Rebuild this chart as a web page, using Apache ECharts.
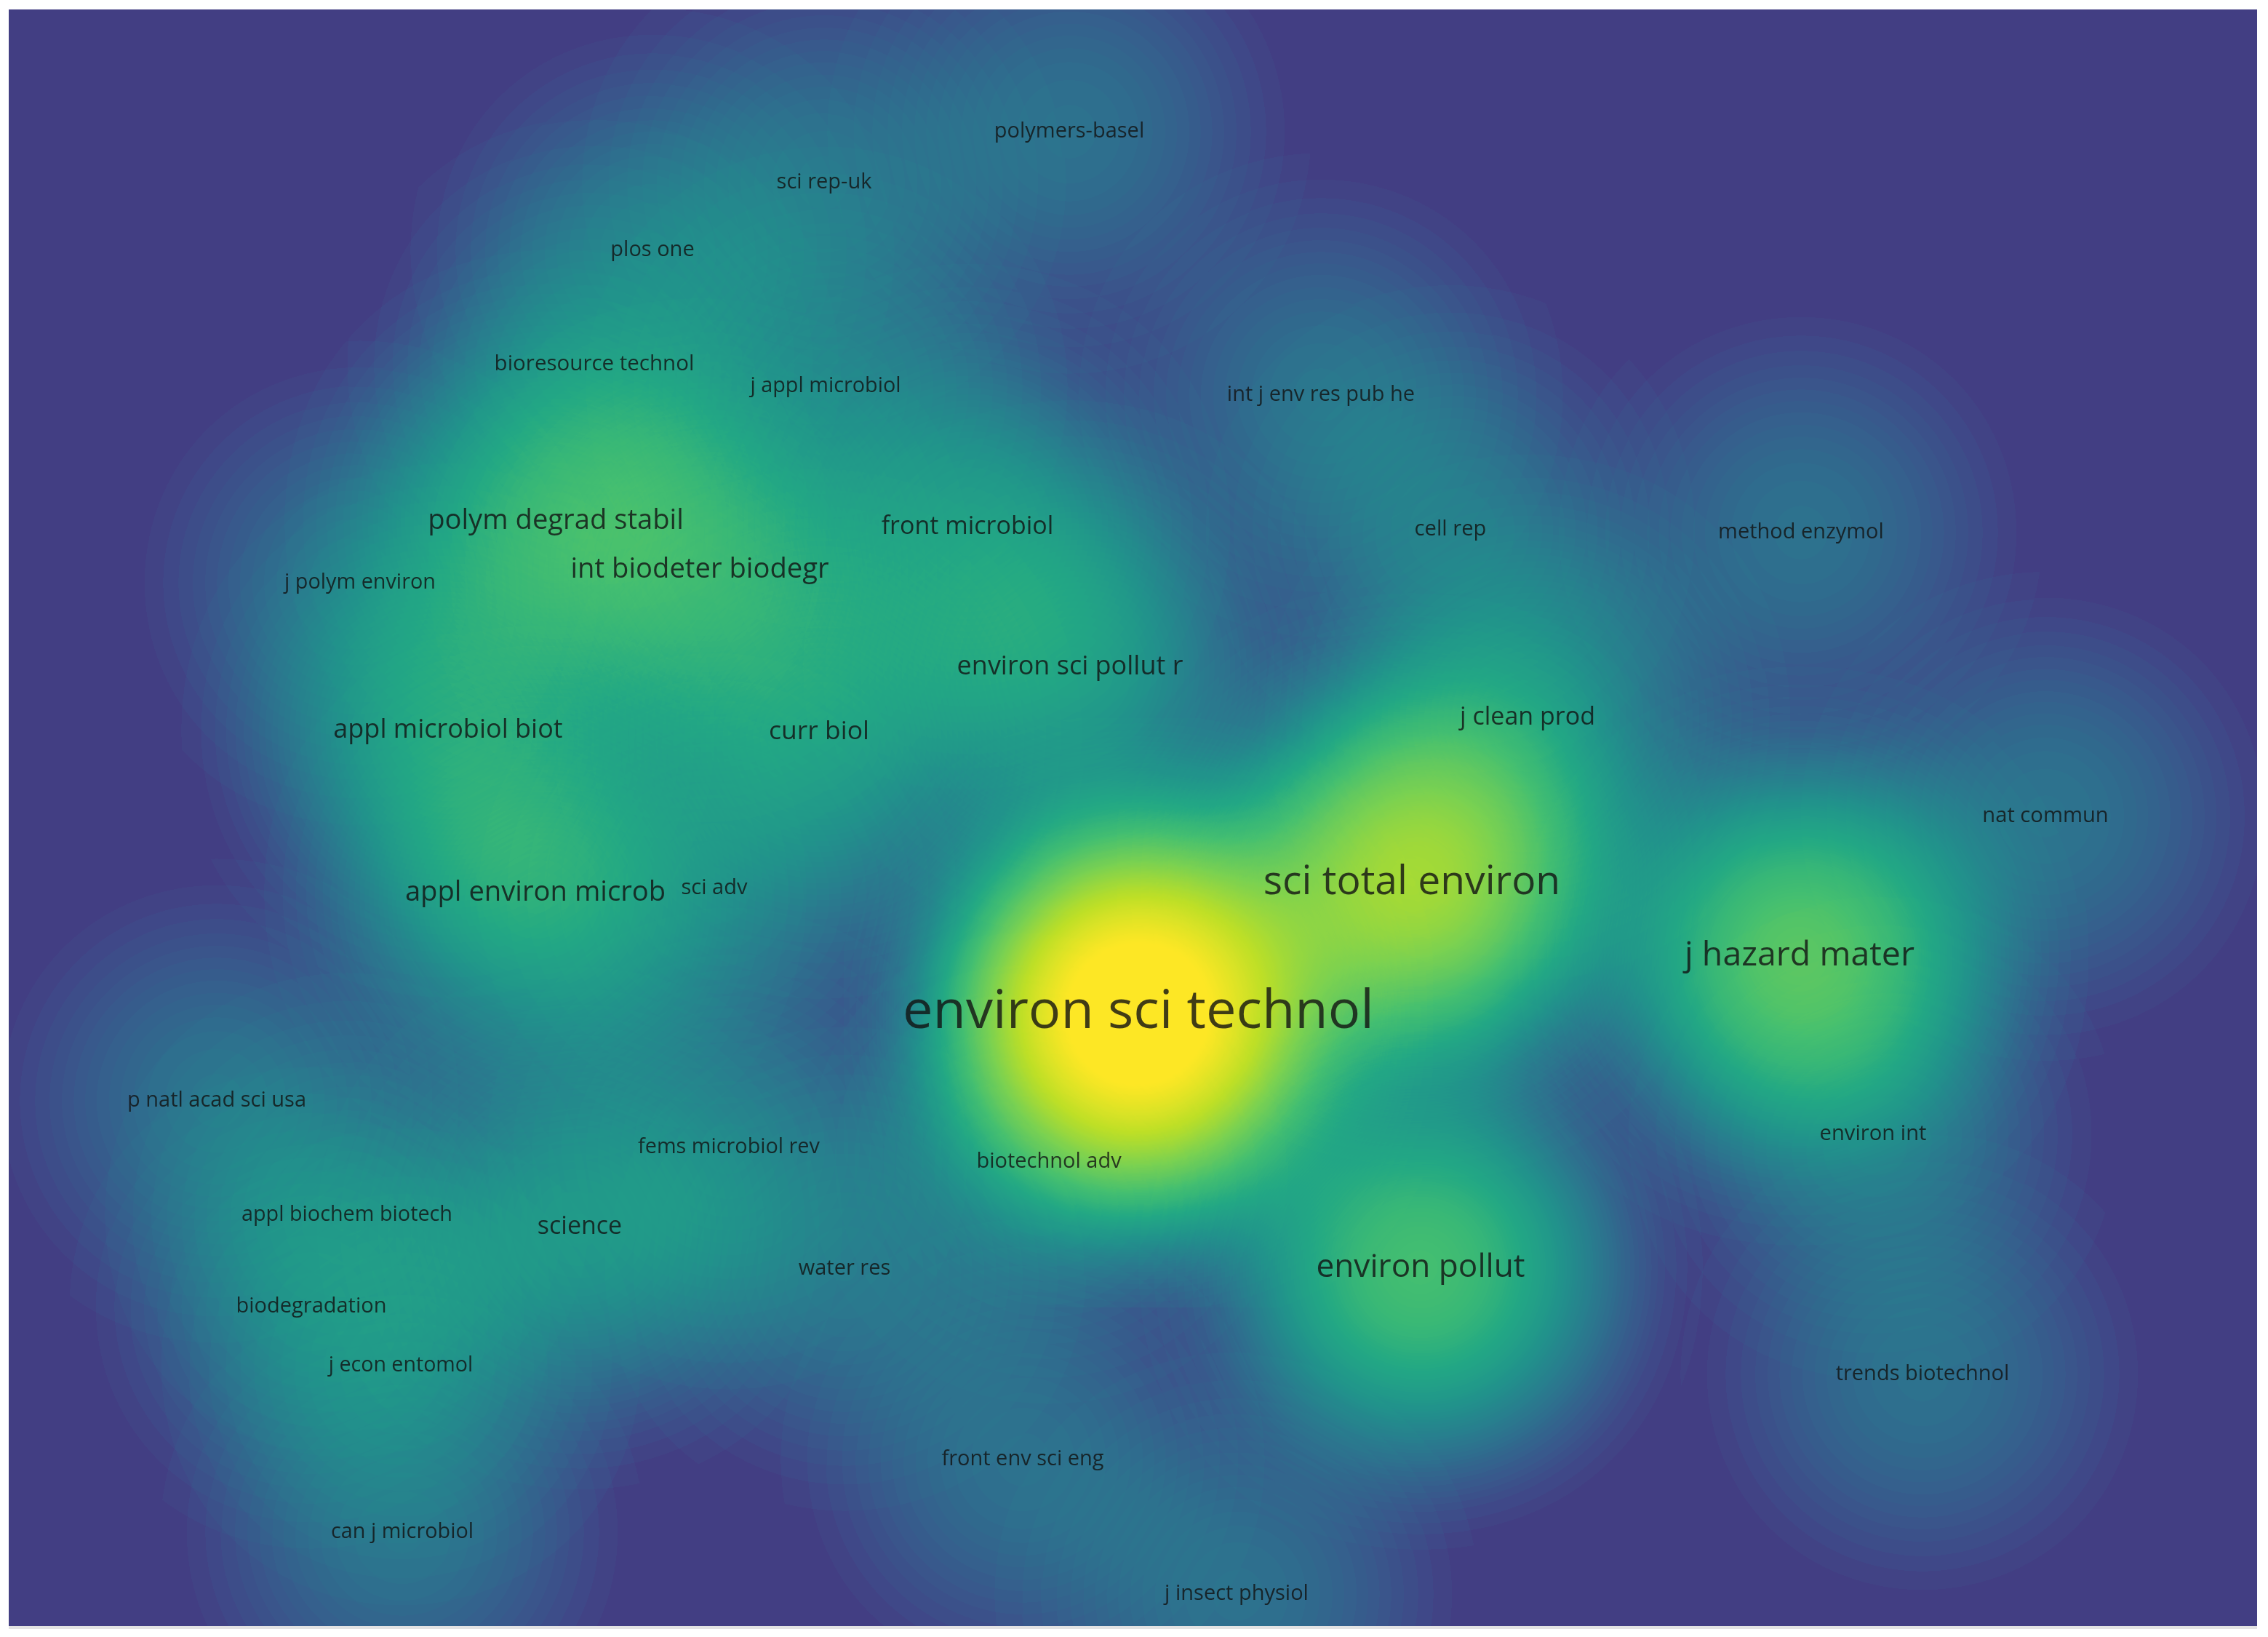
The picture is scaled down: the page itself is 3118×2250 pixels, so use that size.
<!DOCTYPE html>
<html>
<head>
    <meta charset="utf-8">
    <title>density map</title>
    <script src="https://cdn.jsdelivr.net/npm/echarts@6/dist/echarts.min.js"></script>
    <style>
        html, body { margin: 0; padding: 0; background: #fff; }
        #main { width: 3118px; height: 2250px; }
    </style>
</head>
<body>
<div id="main"></div>
<script type="text/javascript">
    // source titles (nodes), their map position and weight
    var names = [
        'polymers-basel', 'sci rep-uk', 'plos one', 'bioresource technol', 'j appl microbiol',
        'int j env res pub he', 'polym degrad stabil', 'front microbiol', 'cell rep', 'method enzymol',
        'j polym environ', 'int biodeter biodegr', 'environ sci pollut r', 'j clean prod', 'appl microbiol biot',
        'curr biol', 'nat commun', 'sci total environ', 'appl environ microb', 'sci adv',
        'j hazard mater', 'environ sci technol', 'p natl acad sci usa', 'fems microbiol rev', 'biotechnol adv',
        'environ int', 'appl biochem biotech', 'science', 'water res', 'environ pollut',
        'biodegradation', 'j econ entomol', 'trends biotechnol', 'front env sci eng', 'can j microbiol',
        'j insect physiol'
    ];
    var posX = [
        1470, 1133, 897, 817, 1135,
        1816, 764, 1330, 1994, 2476,
        495, 962, 1471, 2100, 616,
        1126, 2812, 1941, 736, 982,
        2474, 1565, 298, 1002, 1442,
        2575, 477, 797, 1161, 1953,
        428, 551, 2643, 1406, 553,
        1700
    ];
    var posY = [
        181, 251, 344, 501, 531,
        543, 716, 724, 728, 732,
        801, 783, 917, 986, 1004,
        1006, 1122, 1213, 1227, 1221,
        1314, 1392, 1513, 1577, 1597,
        1559, 1670, 1686, 1744, 1742,
        1796, 1877, 1889, 2006, 2106,
        2191
    ];
    var weights = [
        90, 90, 90, 95, 88,
        90, 182, 140, 92, 90,
        88, 182, 160, 140, 160,
        155, 92, 352, 182, 90,
        265, 540, 90, 88, 90,
        92, 88, 140, 90, 242,
        90, 86, 90, 90, 88,
        90
    ];

    // viridis at t = 0, 0.1 ... 1
    var viridisStops = ['#440154', '#482475', '#414487', '#355f8d', '#2a788e', '#21918c',
        '#22a884', '#44bf70', '#7ad151', '#bddf26', '#fde725'];
    function viridisAt(t) {
        var p = Math.max(0, Math.min(1, t)) * 10;
        var i = Math.min(Math.floor(p), 9);
        var f = p - i;
        var a = echarts.color.parse(viridisStops[i]);
        var b = echarts.color.parse(viridisStops[i + 1]);
        return 'rgb(' + [0, 1, 2].map(function (c) {
            return Math.round(a[c] + (b[c] - a[c]) * f);
        }).join(',') + ')';
    }
    // accumulated density alpha -> colour (log scale, background purple at zero)
    var ALPHA_TOP = 0.72, T0 = 0.18;
    var gradient = [];
    for (var k = 0; k <= 120; k++) {
        var x = Math.min(k / 120 / ALPHA_TOP, 1);
        var f = Math.log(1 + 10 * x) / Math.log(11);
        gradient.push(viridisAt(T0 + (1 - T0) * f));
    }

    echarts.registerMap('frame', {
        type: 'FeatureCollection',
        features: [{
            type: 'Feature',
            properties: { name: 'frame' },
            geometry: {
                type: 'Polygon',
                coordinates: [[[12, -13], [3103, -13], [3103, -2235], [12, -2235], [12, -13]]]
            }
        }]
    });

    var maxW = Math.max.apply(null, weights);
    var heatData = [];
    var labelData = [];
    for (var i = 0; i < names.length; i++) {
        heatData.push([posX[i], -posY[i], Math.pow(weights[i], 1.5)]);
        labelData.push({
            name: names[i],
            value: [posX[i], -posY[i], weights[i]],
            label: { fontSize: 20 + weights[i] * 0.1 }
        });
    }

    var myChart = echarts.init(document.getElementById('main'));
    myChart.setOption({
        backgroundColor: '#ffffff',
        animation: false,
        geo: {
            map: 'frame',
            roam: false,
            silent: true,
            aspectScale: 1,
            left: 12, top: 13, right: 15, bottom: 15,
            label: { show: false },
            itemStyle: { areaColor: gradient[0], borderWidth: 0 },
            emphasis: { disabled: true }
        },
        visualMap: {
            show: false,
            type: 'continuous',
            seriesIndex: 0,
            min: 0,
            max: Math.pow(maxW, 1.5),
            inRange: { color: gradient }
        },
        graphic: [{
            type: 'rect',
            shape: { x: 12, y: 2235, width: 3091, height: 4 },
            style: { fill: '#e3e3e3' },
            silent: true
        }],
        series: [
            {
                type: 'heatmap',
                coordinateSystem: 'geo',
                pointSize: 195,
                blurSize: 210,
                minOpacity: 1,
                maxOpacity: 1,
                silent: true,
                data: heatData
            },
            {
                type: 'scatter',
                coordinateSystem: 'geo',
                symbolSize: 1,
                silent: true,
                z: 5,
                itemStyle: { color: 'rgba(0,0,0,0)' },
                label: {
                    show: true,
                    position: 'inside',
                    formatter: '{b}',
                    color: '#121212',
                    fontFamily: 'Open Sans'
                },
                data: labelData
            }
        ]
    });
</script>
</body>
</html>
